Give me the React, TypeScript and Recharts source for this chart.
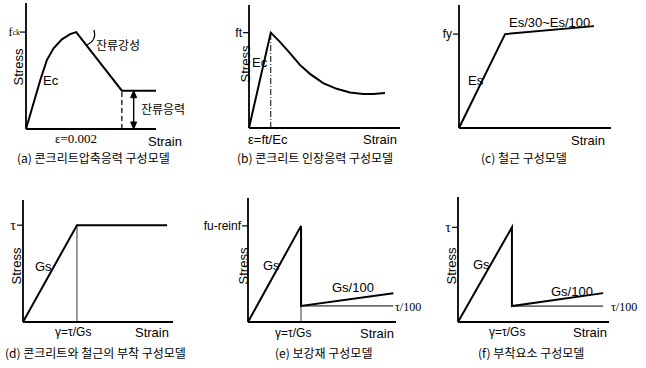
import React from "react";
import { LineChart, Line, XAxis, YAxis, ReferenceLine } from "recharts";

const SANS = "'Liberation Sans', Arial, sans-serif";
const SERIF = "'Liberation Serif', 'Times New Roman', serif";
const KR = "'Noto Sans CJK KR', 'Noto Sans', sans-serif";

// (a) concrete compression: strain in 1e-3, stress / fck
const aStrain = [0, 0.3, 0.57, 0.83, 1.1, 1.43, 1.76, 2.0, 3.82, 5.18];
const aStress = [0, 0.265, 0.505, 0.711, 0.832, 0.925, 0.979, 1.0, 0.395, 0.395];
// (b) concrete tension: strain / (ft/Ec), stress / ft
const bStrain = [0, 1, 1.41, 1.88, 2.34, 2.8, 3.41, 4.03, 4.64, 5.25, 5.71, 6.25];
const bStress = [0, 1, 0.906, 0.785, 0.662, 0.568, 0.471, 0.411, 0.372, 0.356, 0.356, 0.366];
// (c) rebar
const cStrain = [0, 1, 2.93];
const cStress = [0, 1, 1.085];
// (d) bond concrete-rebar
const dStrain = [0, 1, 2.67];
const dStress = [0, 1, 1];
// (e) reinforcement
const eStrain = [0, 1, 1, 2.74];
const eStress = [0, 1, 0.167, 0.3];
const eFlatStrain = [1, 2.74];
const eFlatStress = [0.167, 0.167];
// (f) bond element
const fStrain = [0, 1, 1, 2.69];
const fStress = [0, 1, 0.168, 0.305];
const fFlatStrain = [1, 2.69];
const fFlatStress = [0.168, 0.168];

const pts = (xs: number[], ys: number[]) => xs.map((x, i) => ({ x, y: ys[i] }));

type Seg = { x1: number; y1: number; x2: number; y2: number; dash?: string; w?: number; arrow?: boolean };
type Series = { data: { x: number; y: number }[]; w: number };

function Arrow(p: any) {
  const { x1, y1, x2, y2 } = p;
  const top = Math.min(y1, y2);
  const bot = Math.max(y1, y2);
  return (
    <g stroke="#000" fill="#000">
      <line x1={x1} y1={top + 3} x2={x2} y2={bot - 3} strokeWidth={1.4} />
      <path d={`M${x1 - 3},${top + 7} L${x1},${top} L${x1 + 3},${top + 7} Z`} />
      <path d={`M${x1 - 3},${bot - 7} L${x1},${bot} L${x1 + 3},${bot - 7} Z`} />
    </g>
  );
}

function Tick(props: any) {
  const { x, y, label } = props;
  if (label === "fck") {
    return (
      <text x={x + 1} y={y} textAnchor="end" dominantBaseline="central" fontFamily={SERIF} fontSize={12}>
        f<tspan fontSize={8}>ck</tspan>
      </text>
    );
  }
  const serif = label === "τ";
  return (
    <text x={x} y={y} textAnchor="end" dominantBaseline="central" fontFamily={serif ? SERIF : SANS} fontSize={serif ? 14 : 12}>
      {label}
    </text>
  );
}

const YW = 60;
const XH = 4;

function Panel(props: {
  ox: number; oy: number; xLen: number; yLen: number; xMax: number; yMax: number;
  series: Series[]; segs: Seg[]; tickLabel: string;
}) {
  const { ox, oy, xLen, yLen, xMax, yMax, series, segs, tickLabel } = props;
  const m = { top: 6, right: 8, bottom: 4, left: 4 };
  return (
    <div style={{ position: "absolute", left: ox - m.left - YW, top: oy - yLen - m.top }}>
      <LineChart width={xLen + m.left + m.right + YW} height={yLen + m.top + m.bottom + XH} margin={m}>
        <XAxis type="number" dataKey="x" domain={[0, xMax]} tick={false} tickLine={false} height={XH}
          axisLine={{ stroke: "#000", strokeWidth: 1.8 }} />
        <YAxis type="number" domain={[0, yMax]} ticks={[1]} width={YW} tickSize={6} tickMargin={1}
          tickLine={{ stroke: "#000", strokeWidth: 1.2 }} axisLine={{ stroke: "#000", strokeWidth: 1.8 }}
          tick={(p: any) => <Tick {...p} label={tickLabel} />} />
        {segs.map((s, i) => (
          <ReferenceLine key={i} segment={[{ x: s.x1, y: s.y1 }, { x: s.x2, y: s.y2 }]}
            stroke="#000" strokeWidth={s.w ?? 1} strokeDasharray={s.dash}
            shape={s.arrow ? (p: any) => <Arrow {...p} /> : undefined} />
        ))}
        {series.map((s, i) => (
          <Line key={i} data={s.data} dataKey="y" type="linear" stroke="#000" strokeWidth={s.w}
            dot={false} activeDot={false} isAnimationActive={false} />
        ))}
      </LineChart>
    </div>
  );
}

function T(p: { x: number; y: number; text: string; size?: number; font?: string }) {
  return (
    <div style={{
      position: "absolute", left: p.x, top: p.y, whiteSpace: "nowrap",
      fontFamily: p.font ?? SANS, fontSize: p.size ?? 13, lineHeight: 1, color: "#000",
      transform: "translateY(-50%)",
    }}>{p.text}</div>
  );
}

function Stress({ x, y }: { x: number; y: number }) {
  return (
    <div style={{
      position: "absolute", left: x, top: y, fontFamily: SANS, fontSize: 13, lineHeight: 1,
      transform: "translate(-50%,-50%) rotate(-90deg)", whiteSpace: "nowrap",
    }}>Stress</div>
  );
}

export default function App() {
  return (
    <div style={{ position: "relative", width: 646, height: 368, background: "#fff", overflow: "hidden" }}>
      <style>{`body{margin:0}`}</style>

      {/* (a) */}
      <Panel ox={26} oy={129} xLen={130} yLen={126} xMax={5.17} yMax={1.3} tickLabel="fck"
        series={[{ data: pts(aStrain, aStress), w: 2 }]}
        segs={[
          { x1: 3.82, y1: 0, x2: 3.82, y2: 0.395, dash: "5 3", w: 1.2 },
          { x1: 4.29, y1: 0, x2: 4.29, y2: 0.395, arrow: true },
        ]} />
      <Stress x={18} y={67} />
      <T x={43} y={80} text="Ec" />
      <T x={96} y={45} text="잔류강성" font={KR} size={12} />
      <T x={141} y={109} text="잔류응력" font={KR} size={12} />
      <T x={55} y={138} text="ε=0.002" font={SERIF} size={13} />
      <T x={148} y={141} text="Strain" />
      <T x={17} y={158} text="(a) 콘크리트압축응력 구성모델" font={KR} size={12} />
      <svg style={{ position: "absolute", left: 0, top: 0 }} width={646} height={368}>
        <path d="M87,45 Q97,40 94,30" fill="none" stroke="#000" strokeWidth={1.2} />
      </svg>

      {/* (b) */}
      <Panel ox={249} oy={128} xLen={151} yLen={123} xMax={6.94} yMax={1.29} tickLabel="ft"
        series={[{ data: pts(bStrain, bStress), w: 2 }]}
        segs={[{ x1: 1, y1: 0, x2: 1, y2: 1, dash: "6 2 1 2", w: 1 }]} />
      <Stress x={245} y={64} />
      <T x={252} y={62} text="Ec" />
      <T x={248} y={139} text="ε=ft/Ec" />
      <T x={363} y={139} text="Strain" />
      <T x={237} y={158} text="(b) 콘크리트 인장응력 구성모델" font={KR} size={12} />

      {/* (c) */}
      <Panel ox={459} oy={128} xLen={152} yLen={123} xMax={3.3} yMax={1.31} tickLabel="fy"
        series={[{ data: pts(cStrain, cStress), w: 2 }]} segs={[]} />
      <T x={468} y={80} text="Es" />
      <T x={509} y={22} text="Es/30~Es/100" />
      <T x={571} y={140} text="Strain" />
      <T x={481} y={158} text="(c) 철근 구성모델" font={KR} size={12} />

      {/* (d) */}
      <Panel ox={23} oy={322} xLen={150} yLen={122} xMax={2.78} yMax={1.26} tickLabel="τ"
        series={[{ data: pts(dStrain, dStress), w: 2 }]}
        segs={[{ x1: 1, y1: 0, x2: 1, y2: 1, w: 0.8 }]} />
      <Stress x={16} y={266} />
      <T x={35} y={266} text="Gs" />
      <T x={55} y={332} text="γ=τ/Gs" size={12} />
      <T x={135} y={332} text="Strain" />
      <T x={5} y={353} text="(d) 콘크리트와 철근의 부착 구성모델" font={KR} size={12} />

      {/* (e) */}
      <Panel ox={248} oy={322} xLen={148} yLen={124} xMax={2.79} yMax={1.29} tickLabel="fu-reinf"
        series={[{ data: pts(eStrain, eStress), w: 2 }, { data: pts(eFlatStrain, eFlatStress), w: 1 }]}
        segs={[{ x1: 1, y1: 0, x2: 1, y2: 0.167, w: 0.8 }]} />
      <Stress x={243} y={266} />
      <T x={263} y={265} text="Gs" />
      <T x={332} y={287} text="Gs/100" />
      <T x={395} y={307} text="τ/100" font={SERIF} size={12} />
      <T x={275} y={333} text="γ=τ/Gs" size={12} />
      <T x={360} y={333} text="Strain" />
      <T x={275} y={353} text="(e) 보강재 구성모델" font={KR} size={12} />

      {/* (f) */}
      <Panel ox={458} oy={322} xLen={151} yLen={125} xMax={2.8} yMax={1.32} tickLabel="τ"
        series={[{ data: pts(fStrain, fStress), w: 2 }, { data: pts(fFlatStrain, fFlatStress), w: 1 }]}
        segs={[]} />
      <Stress x={451} y={266} />
      <T x={473} y={264} text="Gs" />
      <T x={551} y={291} text="Gs/100" />
      <T x={611} y={307} text="τ/100" font={SERIF} size={12} />
      <T x={489} y={332} text="γ=τ/Gs" size={12} />
      <T x={573} y={332} text="Strain" />
      <T x={478} y={353} text="(f) 부착요소 구성모델" font={KR} size={12} />
    </div>
  );
}
